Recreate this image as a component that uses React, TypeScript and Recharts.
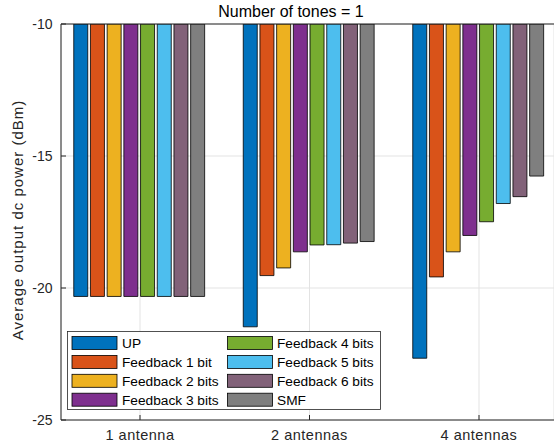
import React from 'react';
import { BarChart, Bar, XAxis, YAxis, CartesianGrid, ReferenceLine, Legend } from 'recharts';

const categories = ['1 antenna', '2 antennas', '4 antennas'];
const seriesNames = ['UP', 'Feedback 1 bit', 'Feedback 2 bits', 'Feedback 3 bits', 'Feedback 4 bits', 'Feedback 5 bits', 'Feedback 6 bits', 'SMF'];
const seriesColors = ['#0072BD', '#D95319', '#EDB120', '#7E2F8E', '#77AC30', '#4DBEEE', '#826279', '#7f7f7f'];

const up = [-20.32, -21.47, -22.66];
const fb1 = [-20.32, -19.53, -19.58];
const fb2 = [-20.32, -19.24, -18.63];
const fb3 = [-20.32, -18.63, -18.01];
const fb4 = [-20.32, -18.37, -17.49];
const fb5 = [-20.32, -18.36, -16.8];
const fb6 = [-20.32, -18.3, -16.54];
const smf = [-20.32, -18.24, -15.76];

const yTicks = [-25, -20, -15, -10];
const titleText = 'Number of tones = 1';
const yLabelText = 'Average output dc power (dBm)';

const seriesValues = [up, fb1, fb2, fb3, fb4, fb5, fb6, smf];
const keys = ['s0', 's1', 's2', 's3', 's4', 's5', 's6', 's7'];

const data = categories.map((c, i) => {
  const row: any = { name: c };
  keys.forEach((k, j) => { row[k] = seriesValues[j][i]; });
  return row;
});

const FONT = '"Liberation Sans", Arial, Helvetica, sans-serif';
const DARK = '#262626';

const renderLegend = () => {
  const rows = 4;
  return (
    <svg width={315} height={80} style={{ display: 'block' }}>
      <rect x={0.5} y={0.5} width={313} height={78} fill="#fff" stroke={DARK} strokeWidth={0.8} />
      {seriesNames.map((n, i) => {
        const col = Math.floor(i / rows);
        const row = i % rows;
        const sx = col === 0 ? 5 : 160.5;
        const tx = col === 0 ? 55 : 210;
        const cy = 12 + row * 18.9;
        return (
          <g key={n}>
            <rect x={sx} y={cy - 6.5} width={45} height={13} fill={seriesColors[i]} stroke="#000" strokeWidth={0.8} />
            <text x={tx} y={cy} dy="0.36em" fontSize={13.7} fontFamily={FONT} fill="#000">{n}</text>
          </g>
        );
      })}
    </svg>
  );
};

const YLabel = (props: any) => {
  const cx = 17.5;
  const cy = 220;
  return (
    <text x={cx} y={cy} transform={`rotate(-90 ${cx} ${cy})`} textAnchor="middle" dominantBaseline="central"
      fontSize={15} letterSpacing={1.0} fontFamily={FONT} fill={DARK}>{yLabelText}</text>
  );
};

export default function App() {
  return (
    <div style={{ position: 'absolute', left: 0, top: 0, width: 554, height: 447, background: '#fff' }}>
      <div style={{ position: 'absolute', left: 0, top: 0, width: 554, textAlign: 'left' }}>
        <svg width={554} height={24} style={{ position: 'absolute', left: 0, top: 0 }}>
          <text x={291} y={16.7} textAnchor="middle" fontSize={16} fontFamily={FONT} fill="#000">{titleText}</text>
        </svg>
      </div>
      <BarChart width={554} height={447} data={data}
        margin={{ top: 24, right: 0, bottom: 0, left: 0 }}
        barCategoryGap={18.5} barGap={2.7}>
        <CartesianGrid stroke="#e3e3e3" strokeWidth={1} />
        <XAxis dataKey="name" type="category" height={27}
          padding={{ left: -5.75, right: -9.75 }}
          tickSize={-5} tickMargin={15}
          axisLine={{ stroke: DARK }} tickLine={{ stroke: DARK }}
          tick={{ fill: DARK, fontSize: 14.5, fontFamily: FONT, letterSpacing: 0.5 }} />
        <YAxis type="number" domain={[-25, -10]} ticks={yTicks} width={61} interval={0}
          tickSize={-5} tickMargin={13.5} allowDataOverflow
          axisLine={{ stroke: DARK }} tickLine={{ stroke: DARK }}
          tick={{ fill: DARK, fontSize: 14, fontFamily: FONT }}
          label={<YLabel />} />
        <ReferenceLine y={-10} stroke={DARK} strokeWidth={1} />
        {keys.map((k, j) => (
          <Bar key={k} dataKey={k} name={seriesNames[j]} fill={seriesColors[j]} stroke="#000" strokeWidth={0.8} isAnimationActive={false} />
        ))}
        <Legend content={renderLegend} layout="horizontal" verticalAlign="middle" align="center"
          wrapperStyle={{ position: 'absolute', left: 67, top: 331, width: 315, height: 80 }} />
      </BarChart>
    </div>
  );
}
